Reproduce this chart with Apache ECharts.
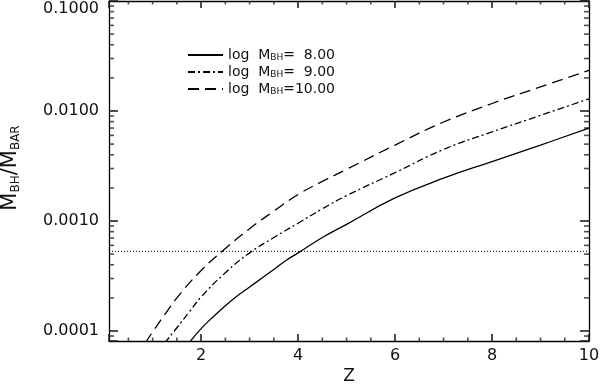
<!DOCTYPE html>
<html>
<head>
<meta charset="utf-8">
<script src="https://cdn.jsdelivr.net/npm/echarts@6/dist/echarts.min.js"></script>
<style>
  html, body { margin: 0; padding: 0; background: #fff; }
  #chart { width: 600px; height: 384px; }
</style>
</head>
<body>
<div id="chart"></div>
<script>
// values
const zSolid = [1.75, 2.0, 2.25, 2.5, 2.75, 3.0, 3.25, 3.5, 3.75, 4.0, 4.5, 5.0, 6.0, 7.0, 8.0, 9.0, 10.0];
const ratioSolid = [7.8e-5, 1.05e-4, 1.35e-4, 1.70e-4, 2.09e-4, 2.51e-4, 3.02e-4, 3.63e-4, 4.37e-4, 5.13e-4, 7.08e-4, 9.33e-4, 1.62e-3, 2.45e-3, 3.47e-3, 4.90e-3, 7.00e-3];

const zDashDot = [1.25, 1.5, 1.75, 2.0, 2.5, 3.0, 3.5, 4.0, 4.5, 5.0, 6.0, 7.0, 8.0, 9.0, 10.0];
const ratioDashDot = [7.8e-5, 1.07e-4, 1.48e-4, 2.04e-4, 3.39e-4, 5.13e-4, 7.08e-4, 9.55e-4, 1.29e-3, 1.70e-3, 2.75e-3, 4.47e-3, 6.46e-3, 9.12e-3, 1.29e-2];

const zDashed = [0.85, 1.0, 1.25, 1.5, 2.0, 2.5, 3.0, 3.5, 4.0, 4.5, 5.0, 6.0, 7.0, 8.0, 9.0, 10.0];
const ratioDashed = [7.8e-5, 9.8e-5, 1.41e-4, 2.00e-4, 3.55e-4, 5.62e-4, 8.51e-4, 1.23e-3, 1.74e-3, 2.29e-3, 2.95e-3, 4.90e-3, 7.94e-3, 1.17e-2, 1.66e-2, 2.34e-2];

const zDotted = [0.1, 10];
const ratioDotted = [0.00053, 0.00053];

const seriesNames = ['8.00', '9.00', '10.00'];

// minor ticks (majors come from the axes themselves)
const xMinor = [0.5, 1, 1.5, 2.5, 3, 3.5, 4.5, 5, 5.5, 6.5, 7, 7.5, 8.5, 9, 9.5];
const yMinor = [0.00009,
  0.0002, 0.0003, 0.0004, 0.0005, 0.0006, 0.0007, 0.0008, 0.0009,
  0.002, 0.003, 0.004, 0.005, 0.006, 0.007, 0.008, 0.009,
  0.02, 0.03, 0.04, 0.05, 0.06, 0.07, 0.08, 0.09];

const X_MIN = 0.1, X_MAX = 10;
const Y_MIN = 8.11e-5, Y_MAX = 0.1;
const FONT = 'DejaVu Sans';
const INK = '#111';

const pairs = (xs, ys) => xs.map((x, i) => [x, ys[i]]);

const chart = echarts.init(document.getElementById('chart'));

// short inward minor ticks as thin rect symbols on the frame
function minorTicks(name, values, side, len) {
  let data, size, offset;
  if (side === 'bottom' || side === 'top') {
    const edge = side === 'bottom' ? Y_MIN : Y_MAX;
    data = values.map(v => [v, edge]);
    size = [1.6, len];
    offset = [0, side === 'bottom' ? -len / 2 : len / 2];
  } else {
    const edge = side === 'left' ? X_MIN : X_MAX;
    data = values.map(v => [edge, v]);
    size = [len, 1.6];
    offset = [side === 'left' ? len / 2 : -len / 2, 0];
  }
  return {
    name: name, type: 'scatter',
    symbol: 'rect', symbolSize: size, symbolOffset: offset,
    itemStyle: { color: '#222' },
    data: data
  };
}

const frameLine = { show: true, onZero: false, lineStyle: { color: '#000', width: 1.3 } };
const majorTick = len => ({ show: true, inside: true, length: len, lineStyle: { color: '#222', width: 1.6 } });

const isDecade = v => Math.abs(Math.log10(v) - Math.round(Math.log10(v))) < 1e-6;

const lineBase = { type: 'line', showSymbol: false, symbol: 'none', smooth: 0.45 };

const option = {
  animation: false,
  grid: { left: 109, right: 11, top: 1, bottom: 43, outerBoundsMode: 'none' },
  legend: {
    orient: 'vertical',
    left: 187, top: 48, padding: 0,
    itemWidth: 35, itemHeight: 10, itemGap: 2.5,
    itemStyle: { color: 'rgba(0,0,0,0)', borderWidth: 0 },
    data: seriesNames,
    formatter: name => '{a|log  M}{b|BH}{a|=}{n|' + name + '}',
    textStyle: {
      rich: {
        a: { fontSize: 14, fontFamily: FONT, color: INK, lineHeight: 16 },
        b: { fontSize: 9, fontFamily: FONT, color: INK, padding: [6, 0, 0, 0] },
        n: { fontSize: 14, fontFamily: FONT, color: INK, width: 40, align: 'right', lineHeight: 16 }
      }
    }
  },
  // axis titles as plain text elements
  graphic: [
    {
      type: 'text', x: 349, y: 377, silent: true,
      style: { text: 'Z', fill: INK, font: '17px "DejaVu Sans"', align: 'center', verticalAlign: 'middle' }
    },
    {
      type: 'text', x: 11, y: 168, rotation: Math.PI / 2, silent: true,
      style: {
        text: '{a|M}{b|BH}{a|/M}{b|BAR}', align: 'center', verticalAlign: 'middle',
        rich: {
          a: { fontSize: 21, fontFamily: FONT, fill: INK },
          b: { fontSize: 12, fontFamily: FONT, fill: INK, padding: [9, 0, 0, 0] }
        }
      }
    }
  ],
  xAxis: [
    {
      type: 'value', position: 'bottom', min: X_MIN, max: X_MAX,
      axisLine: frameLine,
      axisTick: majorTick(7),
      splitLine: { show: false },
      axisLabel: { margin: 7, color: INK, fontSize: 16, fontFamily: FONT,
        formatter: v => (v < 1 ? '' : String(v)) }
    },
    {
      type: 'value', position: 'top', min: X_MIN, max: X_MAX,
      axisLine: frameLine,
      axisTick: majorTick(7),
      splitLine: { show: false },
      axisLabel: { show: false }
    }
  ],
  yAxis: [
    {
      type: 'log', logBase: 10, position: 'left', min: Y_MIN, max: Y_MAX,
      axisLine: frameLine,
      axisTick: majorTick(9),
      splitLine: { show: false },
      axisLabel: {
        margin: 10, color: INK, fontSize: 16, fontFamily: FONT,
        formatter: v => {
          if (!isDecade(v)) return '';
          const s = Number(v).toFixed(4);
          // the top label sits below its tick so it stays inside the page
          return Math.abs(v - 0.1) < 1e-9 ? '\n' + s : s;
        }
      }
    },
    {
      type: 'log', logBase: 10, position: 'right', min: Y_MIN, max: Y_MAX,
      axisLine: frameLine,
      axisTick: majorTick(9),
      splitLine: { show: false },
      axisLabel: { show: false }
    }
  ],
  series: [
    Object.assign({}, lineBase, { name: seriesNames[0], data: pairs(zSolid, ratioSolid),
      lineStyle: { color: '#000', width: 1.3, type: 'solid' } }),
    Object.assign({}, lineBase, { name: seriesNames[1], data: pairs(zDashDot, ratioDashDot),
      lineStyle: { color: '#000', width: 1.3, type: [7, 3, 2, 3] } }),
    Object.assign({}, lineBase, { name: seriesNames[2], data: pairs(zDashed, ratioDashed),
      lineStyle: { color: '#000', width: 1.3, type: [11, 6] } }),
    Object.assign({}, lineBase, { name: 'limit', smooth: false, data: pairs(zDotted, ratioDotted),
      lineStyle: { color: '#000', width: 1, type: [1, 2] } }),
    minorTicks('xMinorBottom', xMinor, 'bottom', 3.5),
    minorTicks('xMinorTop', xMinor, 'top', 3.5),
    minorTicks('yMinorLeft', yMinor, 'left', 5),
    minorTicks('yMinorRight', yMinor, 'right', 5)
  ]
};

chart.setOption(option);
</script>
</body>
</html>
